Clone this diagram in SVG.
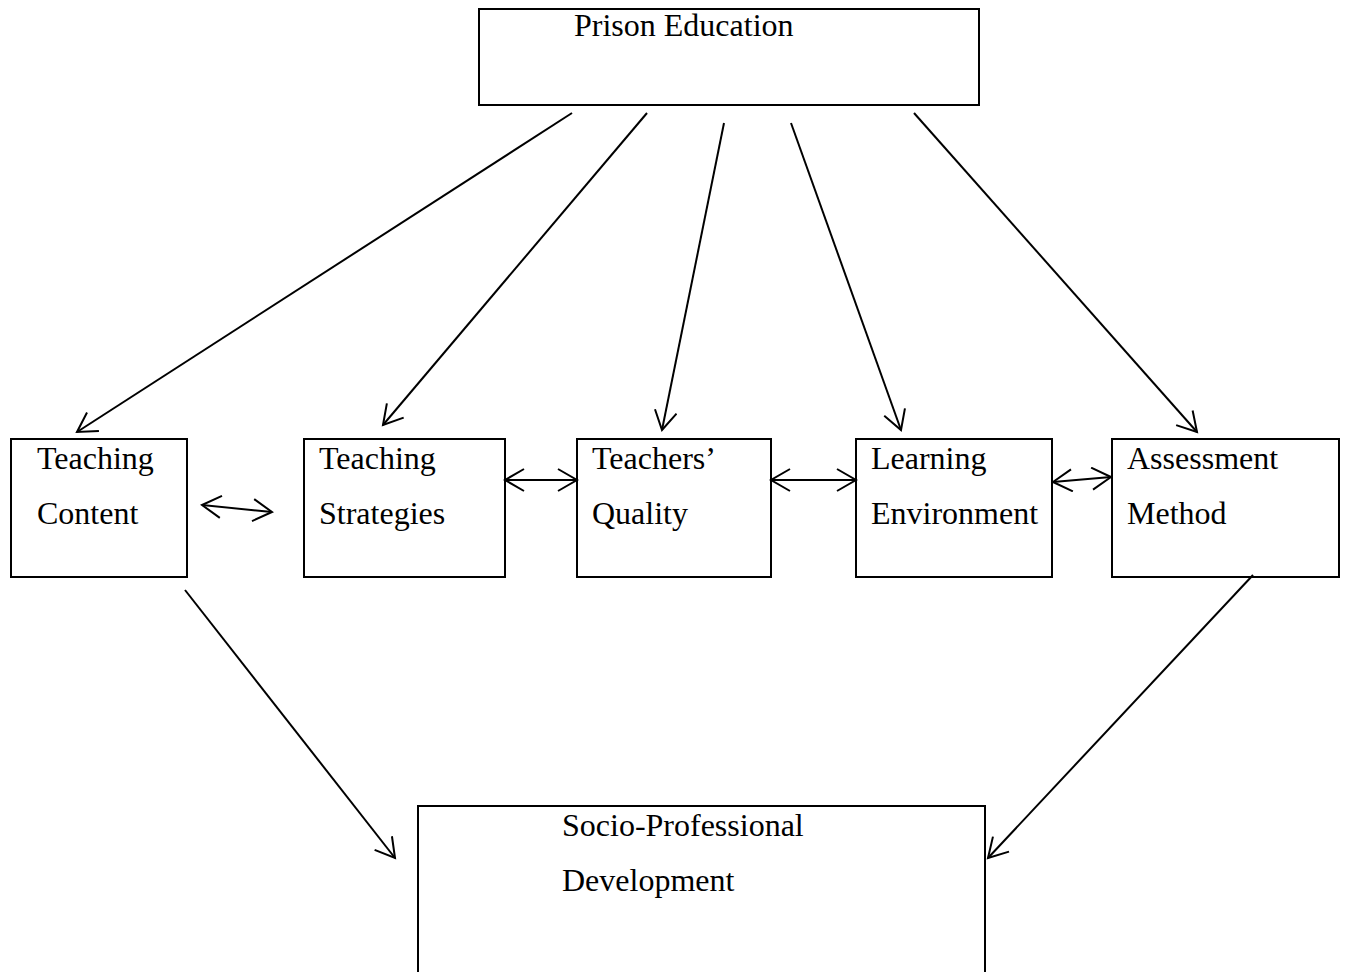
<svg xmlns="http://www.w3.org/2000/svg" width="1346" height="972" viewBox="0 0 1346 972">
  <style>
    .box { fill: #ffffff; stroke: #000000; stroke-width: 2; }
    .lbl { font-family: "Liberation Serif", "Times New Roman", serif; font-size: 32px; fill: #000000; }
    .conn { fill: none; stroke: #000000; stroke-width: 2; }
  </style>
  <defs>
    <marker id="head" markerUnits="userSpaceOnUse" markerWidth="30" markerHeight="30" refX="20" refY="12" orient="auto-start-reverse">
      <path d="M1,1 L20,12 L1,23" fill="none" stroke="#000000" stroke-width="2"/>
    </marker>
  </defs>

  <rect width="1346" height="972" fill="#ffffff"/>

  <g id="prison-education">
    <rect class="box" x="479" y="9" width="500" height="96"/>
    <text class="lbl" x="574" y="36">Prison Education</text>
  </g>

  <g id="teaching-content">
    <rect class="box" x="11" y="439" width="176" height="138"/>
    <text class="lbl" x="37" y="469">Teaching</text>
    <text class="lbl" x="37" y="524">Content</text>
  </g>

  <g id="teaching-strategies">
    <rect class="box" x="304" y="439" width="201" height="138"/>
    <text class="lbl" x="319" y="469">Teaching</text>
    <text class="lbl" x="319" y="524">Strategies</text>
  </g>

  <g id="teachers-quality">
    <rect class="box" x="577" y="439" width="194" height="138"/>
    <text class="lbl" x="592" y="469">Teachers’</text>
    <text class="lbl" x="592" y="524">Quality</text>
  </g>

  <g id="learning-environment">
    <rect class="box" x="856" y="439" width="196" height="138"/>
    <text class="lbl" x="871" y="469">Learning</text>
    <text class="lbl" x="871" y="524">Environment</text>
  </g>

  <g id="assessment-method">
    <rect class="box" x="1112" y="439" width="227" height="138"/>
    <text class="lbl" x="1127" y="469">Assessment</text>
    <text class="lbl" x="1127" y="524">Method</text>
  </g>

  <g id="socio-professional-development">
    <rect class="box" x="418" y="806" width="567" height="180"/>
    <text class="lbl" x="562" y="836">Socio-Professional</text>
    <text class="lbl" x="562" y="891">Development</text>
  </g>

  <g id="connectors">
    <!-- Prison Education to the five components -->
    <line class="conn" x1="572" y1="113" x2="77" y2="432" marker-end="url(#head)"/>
    <line class="conn" x1="647" y1="113" x2="383" y2="425" marker-end="url(#head)"/>
    <line class="conn" x1="724" y1="123" x2="662" y2="430" marker-end="url(#head)"/>
    <line class="conn" x1="791" y1="123" x2="901" y2="430" marker-end="url(#head)"/>
    <line class="conn" x1="914" y1="113" x2="1197" y2="432" marker-end="url(#head)"/>

    <!-- links between neighbouring components -->
    <line class="conn" x1="202" y1="505" x2="272" y2="512" marker-start="url(#head)" marker-end="url(#head)"/>
    <line class="conn" x1="505" y1="480" x2="577" y2="480" marker-start="url(#head)" marker-end="url(#head)"/>
    <line class="conn" x1="771" y1="480" x2="856" y2="480" marker-start="url(#head)" marker-end="url(#head)"/>
    <line class="conn" x1="1053" y1="482" x2="1111" y2="477" marker-start="url(#head)" marker-end="url(#head)"/>

    <!-- into Socio-Professional Development -->
    <line class="conn" x1="185" y1="590" x2="395" y2="858" marker-end="url(#head)"/>
    <line class="conn" x1="1253" y1="575" x2="988" y2="858" marker-end="url(#head)"/>
  </g>
</svg>
